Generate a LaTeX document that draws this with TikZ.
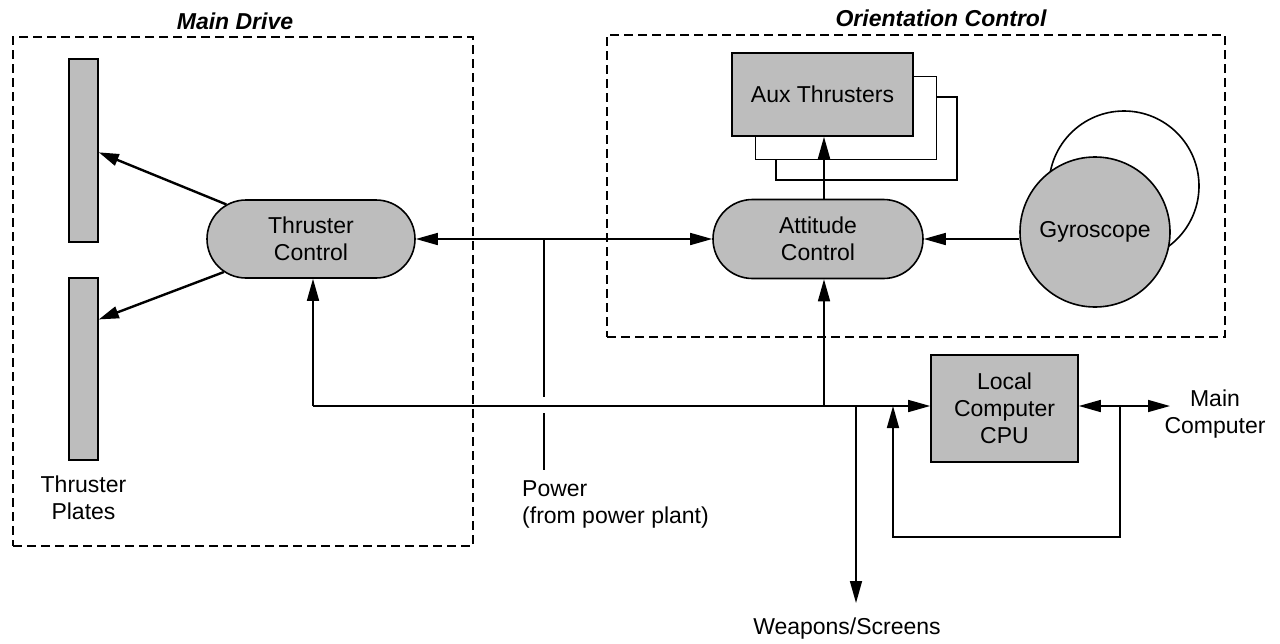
\documentclass[tikz,border=0pt]{standalone}
\usepackage{fontspec}
\setmainfont{Liberation Sans}
\usetikzlibrary{arrows.meta,shapes.misc,calc}
\definecolor{shade}{gray}{0.74}
\begin{document}
\begin{tikzpicture}[x=1pt,y=-1pt,
  every node/.style={font=\fontsize{23}{27}\selectfont, inner sep=0pt, align=center},
  conn/.style={line width=1.6pt},
  arr/.style={conn,-{Triangle[length=22pt,width=12pt]}},
  darr/.style={conn,{Triangle[length=22pt,width=12pt]}-{Triangle[length=22pt,width=12pt]}},
  thick arr/.style={line width=2.4pt,-{Triangle[length=20pt,width=12pt]}},
  region/.style={draw, line width=1.4pt, dash pattern=on 9pt off 5pt},
  title/.style={font=\fontsize{23}{27}\selectfont\bfseries\itshape},
  pill/.style={rounded rectangle, draw, line width=1.6pt, fill=shade},
  blk/.style={rectangle, draw, line width=1.6pt, fill=shade},
  ghost/.style={rectangle, draw, line width=1.6pt, fill=white},
  disc/.style={circle, draw, line width=1.6pt}]
\useasboundingbox (0,0) rectangle (1280,643);

% regions
\node[region, minimum width=460pt, minimum height=509pt] (maindrive) at (243,291.5) {};
\node[region, minimum width=618pt, minimum height=302pt] (orient) at (916,186) {};
\node[title] (mdtitle) at (235,21) {Main Drive};
\node[title] (octitle) at (941,18) {Orientation Control};

% main drive
\node[blk, minimum width=29pt, minimum height=183pt] (plate1) at (83.5,150.5) {};
\node[blk, minimum width=29pt, minimum height=182pt] (plate2) at (83.5,369) {};
\node (platestext) at (83.5,497.5) {Thruster\\Plates};
\node[pill, minimum width=208pt, minimum height=78pt] (tc) at (311,239) {Thruster\\Control};

% orientation control
\node[ghost, minimum width=181pt, minimum height=83pt] (aux3) at (866.5,138.5) {};
\node[ghost, minimum width=181pt, minimum height=83pt] (aux2) at (846,118) {};
\node[blk, minimum width=181pt, minimum height=83pt] (aux) at (822.5,94.5) {Aux Thrusters};
\node[pill, minimum width=210pt, minimum height=79pt] (ac) at (818,239) {Attitude\\Control};
\node[disc, fill=white, minimum size=150pt] (gyroback) at (1124,186) {};
\node[disc, fill=shade, minimum size=150pt] (gyro) at (1095,232) {Gyroscope};

% computer
\node[blk, minimum width=147pt, minimum height=107pt] (cpu) at (1004.5,408.5) {Local\\Computer\\CPU};
\node (mctext) at (1215,414) {Main\\Computer};
\node (wtext) at (847,629) {Weapons/Screens};
\node[anchor=west, align=left] (ptext) at (522,504) {Power\\(from power plant)};

% coordinates
\coordinate (bl) at (313,406);
\coordinate (acb) at (824,406);
\coordinate (wtop) at (856,406);
\coordinate (wend) at (856,603);
\coordinate (fb) at (893,406);
\coordinate (fbl) at (893,537);
\coordinate (mc) at (1120,406);
\coordinate (mcl) at (1120,537);
\coordinate (mcend) at (1170,406);
\coordinate (ptop) at (544,239);
\coordinate (pg1) at (544,397);
\coordinate (pg2) at (544,413);
\coordinate (pbot) at (544,470);

% connectors
\draw[thick arr] (tc) -- ($(plate1.north east)!0.51!(plate1.south east)$);
\draw[thick arr] (tc) -- ($(plate2.north east)!0.23!(plate2.south east)$);
\draw[darr] (tc.east) -- (ac.west);
\draw[conn] (ptop) -- (pg1) (pg2) -- (pbot);
\draw[arr] (bl) -- (cpu.west |- bl);
\draw[arr] (bl) -- (bl |- tc.south);
\draw[arr] (acb) -- (acb |- ac.south);
\draw[arr] (ac.north -| acb) -- (aux.south -| acb);
\draw[arr] (gyro.west |- ac.east) -- (ac.east);
\draw[arr] (wtop) -- (wend);
\draw[arr] (mc) -- (mcl) -- (fbl) -- (fb);
\draw[darr] (cpu.east |- mc) -- (mcend);
\end{tikzpicture}
\end{document}
